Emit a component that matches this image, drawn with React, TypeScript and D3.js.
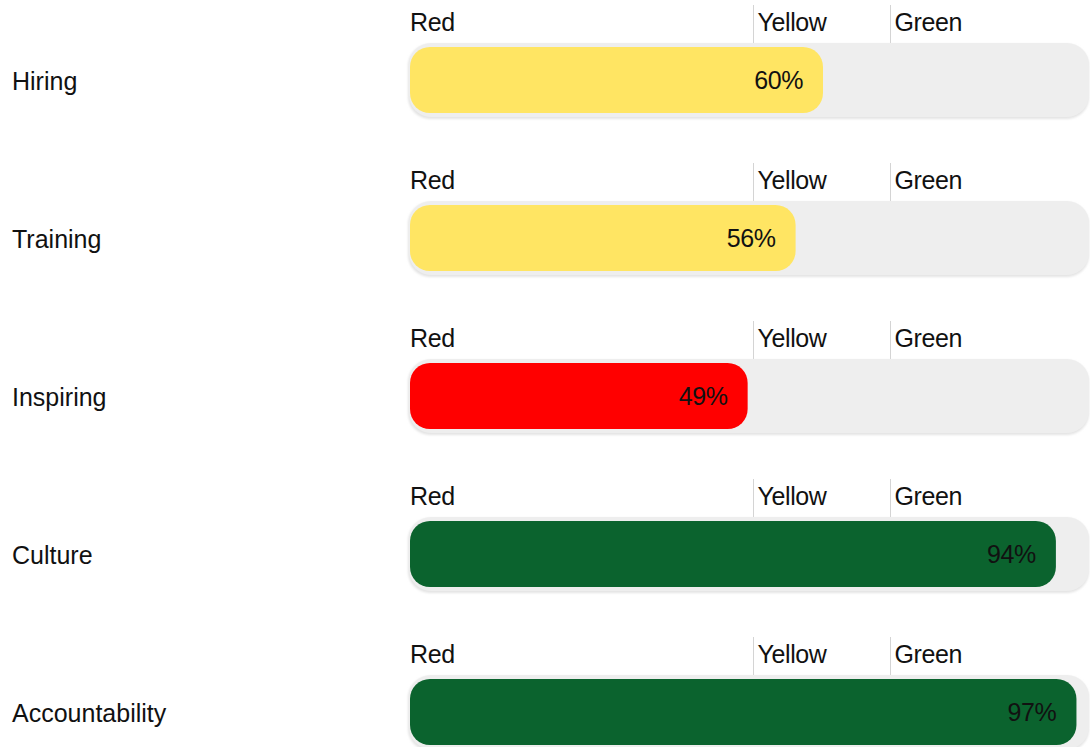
import React from "react";
import * as d3 from "d3";

const categories = ["Hiring", "Training", "Inspiring", "Culture", "Accountability"];
const values = [60, 56, 49, 94, 97];
const thresholdLabels = ["Red", "Yellow", "Green"];
const thresholdValues = [0, 50, 70];

const W = 1090;
const H = 747;
const font = "'Liberation Sans', Arial, sans-serif";

function colorFor(v: number) {
  if (v < thresholdValues[1]) return "#FF0000";
  if (v < thresholdValues[2]) return "#FFE563";
  return "#0B632E";
}

export default function App() {
  const x = d3.scaleLinear().domain([0, 100]).range([412, 1097]);
  const rowStep = 158;
  const trackTop0 = 43;
  const trackH = 75;
  const barTop0 = 47;
  const barH = 66;
  return (
    <svg
      width={W}
      height={H}
      style={{ position: "absolute", left: 0, top: 0, background: "#fff" }}
      fontFamily={font}
    >
      <defs>
        <filter id="sh" x="-5%" y="-20%" width="110%" height="140%">
          <feGaussianBlur stdDeviation="1" />
        </filter>
      </defs>
      {categories.map((c, i) => {
        const oy = i * rowStep;
        const v = values[i];
        return (
          <g key={c}>
            <text x={12} y={oy + 90} fontSize={25} fill="#111">
              {c}
            </text>
            {thresholdValues.map((t, j) => (
              <g key={j}>
                {j > 0 && (
                  <line
                    x1={x(t) - 1}
                    x2={x(t) - 1}
                    y1={oy + 5}
                    y2={oy + trackTop0}
                    stroke="#d4d4d4"
                    strokeWidth={1}
                  />
                )}
                <text
                  x={j === 0 ? 410 : x(t) + 3}
                  y={oy + 31}
                  fontSize={25}
                  fill="#111"
                  letterSpacing={-0.4}
                >
                  {thresholdLabels[j]}
                </text>
              </g>
            ))}
            <rect
              x={408}
              y={oy + trackTop0 + 1}
              width={681}
              height={trackH}
              rx={22}
              fill="#e4e4e4"
              filter="url(#sh)"
            />
            <rect
              x={409}
              y={oy + trackTop0}
              width={680}
              height={trackH - 1}
              rx={22}
              fill="#eeeeee"
            />
            <rect
              x={410}
              y={oy + barTop0}
              width={x(v) - 410}
              height={barH}
              rx={20}
              fill={colorFor(v)}
            />
            <text
              x={x(v) - 20}
              y={oy + 89}
              fontSize={25}
              fill="#111"
              textAnchor="end"
              letterSpacing={-0.4}
            >
              {v}%
            </text>
          </g>
        );
      })}
    </svg>
  );
}
